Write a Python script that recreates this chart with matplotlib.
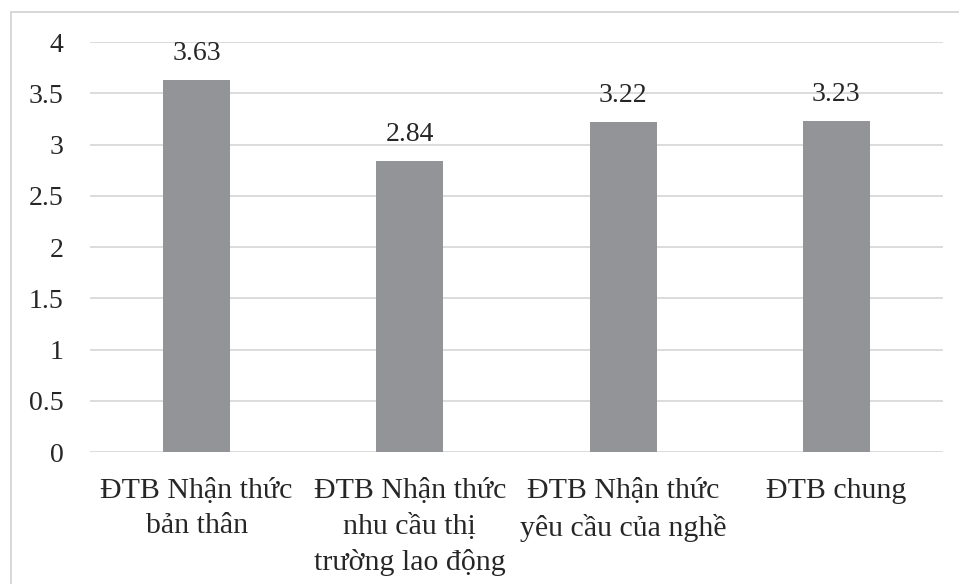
import matplotlib.pyplot as plt
from matplotlib.patches import Rectangle

categories = ['ĐTB Nhận thức\nbản thân',
              'ĐTB Nhận thức\nnhu cầu thị\ntrường lao động',
              'ĐTB Nhận thức\nyêu cầu của nghề',
              'ĐTB chung']
values = [3.63, 2.84, 3.22, 3.23]
yticks = [0, 0.5, 1, 1.5, 2, 2.5, 3, 3.5, 4]

plt.rcParams['font.family'] = ['Liberation Serif', 'DejaVu Serif']
plt.rcParams['font.size'] = 20

fig = plt.figure(figsize=(9.59, 5.84), dpi=100)
ax = fig.add_axes([0.0938, 0.226, 0.8895, 0.702])

x = range(len(categories))
bars = ax.bar(x, values, width=0.315, color='#939497', zorder=3)
for b, v in zip(bars, values):
    ax.annotate(f'{v:.2f}', (b.get_x() + b.get_width() / 2, v),
                xytext=(0, 10), textcoords='offset points',
                ha='center', va='bottom', color='#262626', zorder=4)

ax.set_xlim(-0.5, len(categories) - 0.5)
ax.set_ylim(0, 4)
ax.set_yticks(yticks)
ax.set_yticklabels([f'{t:g}' for t in yticks])
ax.set_xticks(list(x))
ax.set_xticklabels(categories, linespacing=1.42, va='top', fontsize=21.5)
ax.yaxis.grid(True, color='#d9d9d9', lw=1.3, zorder=0)
ax.tick_params(axis='both', length=0, colors='#262626')
ax.tick_params(axis='y', pad=19)
ax.tick_params(axis='x', pad=19)
for s in ax.spines.values():
    s.set_visible(False)

# outer frame of the chart area
fig.patches.append(Rectangle((11 / 959, -0.1), 1.2, 1.1 - 12 / 584,
                             transform=fig.transFigure, fill=False,
                             edgecolor='#d4d4d4', lw=1.3, clip_on=False))

fig.savefig('out.png', dpi=100)
